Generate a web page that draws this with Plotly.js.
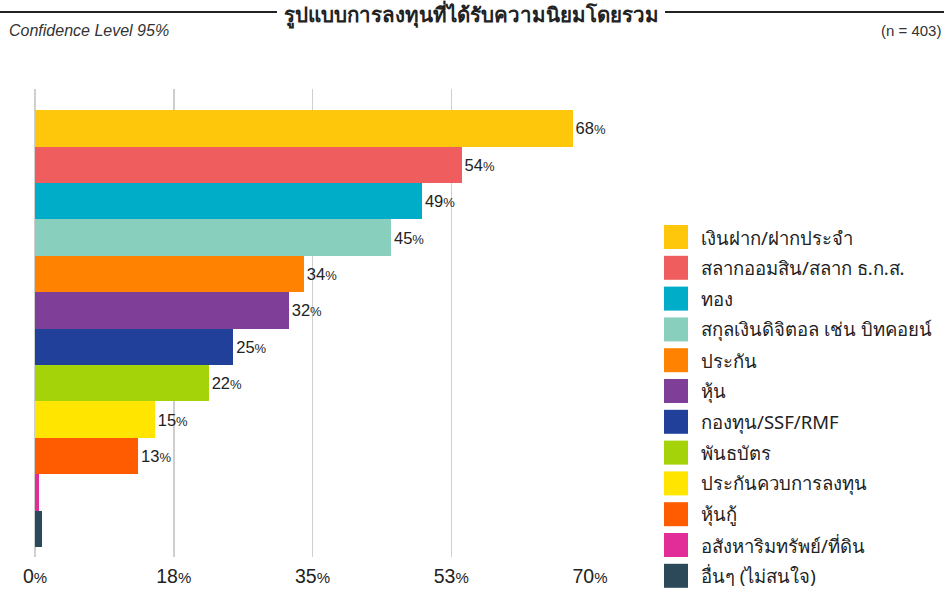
<!DOCTYPE html>
<html>
<head>
<meta charset="utf-8">
<script src="https://cdn.plot.ly/plotly-3.0.1.min.js"></script>
<style>html,body{margin:0;padding:0;background:#fff;}#chart{width:944px;height:591px;}</style>
</head>
<body>
<div id="chart"></div>
<script>
const categories = [
  "เงินฝาก/ฝากประจำ",
  "สลากออมสิน/สลาก ธ.ก.ส.",
  "ทอง",
  "สกุลเงินดิจิตอล เช่น บิทคอยน์",
  "ประกัน",
  "หุ้น",
  "กองทุน/SSF/RMF",
  "พันธบัตร",
  "ประกันควบการลงทุน",
  "หุ้นกู้",
  "อสังหาริมทรัพย์/ที่ดิน",
  "อื่นๆ (ไม่สนใจ)"
];
const values = [67.8, 53.8, 48.8, 44.9, 33.9, 32.0, 25.0, 21.9, 15.1, 13.0, 0.5, 0.9];
const labels = ["68", "54", "49", "45", "34", "32", "25", "22", "15", "13", "", ""];
const colors = ["#FFC70B", "#F05D5E", "#00ADC8", "#88D0BD", "#FF8300", "#7F3F98", "#21409A", "#A4D30A", "#FFE500", "#FF5B00", "#E22D99", "#2B4958"];
const tickVals = [0, 17.5, 35, 52.5, 70];
const tickNums = ["0", "18", "35", "53", "70"];

const FONT = "Noto Sans, Liberation Sans, sans-serif";
const NUMFONT = "Liberation Sans, Arial, sans-serif";

const trace = {
  type: "bar",
  orientation: "h",
  y: categories,
  x: values,
  marker: {color: colors, line: {width: 0}},
  text: labels.map(l => l ? l + '<span style="font-size:13px">%</span>' : ""),
  textposition: "outside",
  cliponaxis: false,
  textfont: {family: NUMFONT, size: 16.5, color: "#222"},
  hoverinfo: "none",
  showlegend: false
};

Plotly.newPlot("chart", [trace], {
  width: 944, height: 591,
  margin: {l: 35, r: 354, t: 89, b: 34},
  paper_bgcolor: "#fff", plot_bgcolor: "#fff",
  bargap: 0,
  font: {family: FONT, color: "#222"},
  xaxis: {
    range: [0, 70], tickvals: tickVals,
    ticktext: tickNums.map(t => t + '<span style="font-size:15px">%</span>'),
    showgrid: true, gridcolor: "#cfcfcf", gridwidth: 1.5,
    zeroline: true, zerolinecolor: "#cfcfcf", zerolinewidth: 1.5,
    showline: false, ticks: "", ticklen: 0, ticklabelstandoff: 5,
    tickfont: {family: NUMFONT, size: 19.5, color: "#222"}
  },
  yaxis: {
    type: "category", range: [11.77, -1.08], showticklabels: false,
    showgrid: false, zeroline: false, ticks: ""
  }
}, {staticPlot: true}).then(gd => {
  const ps = gd._fullLayout._size;
  const toPX = x => (x - ps.l) / ps.w;
  const toPY = y => (ps.t + ps.h - y) / ps.h;
  const shp = [
    {type: "line", xref: "paper", yref: "paper", x0: toPX(0), x1: toPX(277), y0: toPY(12), y1: toPY(12), line: {color: "#222", width: 2}},
    {type: "line", xref: "paper", yref: "paper", x0: toPX(665), x1: toPX(944), y0: toPY(12), y1: toPY(12), line: {color: "#222", width: 2}}
  ];
  const ann = [
    {xref: "paper", yref: "paper", x: toPX(471), y: toPY(14.5), xanchor: "center", yanchor: "middle",
     text: "<b>รูปแบบการลงทุนที่ได้รับความนิยมโดยรวม</b>", showarrow: false,
     font: {family: FONT, size: 20.5, color: "#222"}},
    {xref: "paper", yref: "paper", x: toPX(7), y: toPY(30), xanchor: "left", yanchor: "middle",
     text: "<i>Confidence Level 95%</i>", showarrow: false,
     font: {family: NUMFONT, size: 16, color: "#333"}},
    {xref: "paper", yref: "paper", x: toPX(943), y: toPY(30), xanchor: "right", yanchor: "middle",
     text: "(n = 403)", showarrow: false,
     font: {family: NUMFONT, size: 15, color: "#333"}}
  ];
  const legY0 = 237, legStep = 30.8;
  categories.forEach((c, i) => {
    const cy = legY0 + i * legStep;
    shp.push({type: "rect", xref: "paper", yref: "paper", x0: toPX(664), x1: toPX(688),
      y0: toPY(cy - 12), y1: toPY(cy + 12), fillcolor: colors[i], line: {width: 0}});
    ann.push({xref: "paper", yref: "paper", x: toPX(699), y: toPY(cy), xanchor: "left", yanchor: "middle",
      text: c, showarrow: false, font: {family: FONT, size: 18.5, color: "#222"}});
  });
  return Plotly.relayout(gd, {shapes: shp, annotations: ann});
});
</script>
</body>
</html>
